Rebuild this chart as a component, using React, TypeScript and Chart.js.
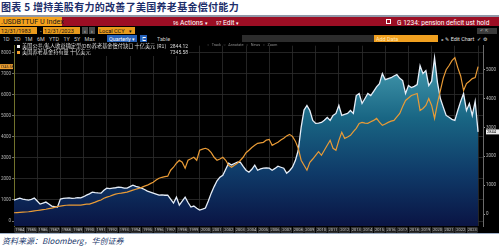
import React, { useEffect, useRef } from 'react';
import { Chart, registerables } from 'chart.js';

Chart.register(...registerables);

// ---- data (quarterly, 1983Q4 .. 2023Q4) ----
const YEAR_LABELS = ['1984','1985','1986','1987','1988','1989','1990','1991','1992','1993','1994','1995','1996','1997','1998','1999','2000','2001','2002','2003','2004','2005','2006','2007','2008','2009','2010','2011','2012','2013','2014','2015','2016','2017','2018','2019','2020','2021','2022','2023'];

// 美国公共/私人收益确定型(DB)养老基金偿付缺口 十亿美元 (R1)
const DEFICIT = [
  483, 520, 552, 520, 500, 483, 510, 552, 450, 345,
  380, 414, 350, 276, 260, 241, 517, 540, 552, 560,
  545, 552, 570, 560, 600, 655, 700, 759, 740, 730,
  724, 820, 897, 880, 897, 910, 931, 920, 900, 897,
  950, 1000, 960, 931, 900, 850, 793, 760, 724, 690,
  655, 660, 650, 655, 520, 379, 586, 310, 450, 586,
  400, 241, 276, 200, 138, 170, 207, 450, 724, 950,
  1150, 1276, 1345, 1550, 1759, 1700, 1750, 1800, 1793, 1650,
  1517, 1448, 1550, 1690, 1517, 1560, 1586, 1600, 1586, 1517,
  1580, 1655, 1620, 1586, 1414, 1500, 1621, 1850, 2207, 3000,
  3600, 3759, 3586, 3241, 3138, 3150, 3172, 3250, 3345, 3241,
  3414, 3483, 3759, 3414, 3450, 3483, 3586, 3483, 4103, 4172,
  3828, 4000, 4172, 4103, 4250, 4400, 4517, 4862, 4650, 4690,
  4720, 4780, 4828, 4700, 4621, 4172, 4448, 4379, 4420, 4483,
  5138, 4862, 4966, 4448, 4600, 5414, 4552, 4000, 3700, 3414,
  3350, 3280, 3241, 3586, 3900, 4172, 3586, 3828, 3414, 3900,
  2844.12,
];

// 美国养老基金持有量 十亿美元
const HOLDINGS = [
  393, 400, 410, 420, 430, 441, 460, 480, 500, 521,
  540, 560, 590, 610, 650, 690, 711, 730, 750, 758,
  760, 755, 758, 760, 780, 800, 806, 850, 900, 960,
  1000, 1080, 1137, 1180, 1232, 1280, 1310, 1327, 1350, 1374,
  1420, 1469, 1510, 1550, 1600, 1660, 1706, 1780, 1848, 1950,
  2038, 2080, 2110, 2133, 2417, 2559, 2750, 2891, 2796, 2512,
  2891, 2960, 3033, 2891, 3365, 3420, 3460, 3400, 3250, 3033,
  2891, 2950, 3033, 2891, 2650, 2559, 2654, 2749, 2880, 3033,
  3250, 3365, 3500, 3600, 3697, 3720, 3744, 3850, 3886, 3602,
  3680, 3744, 3850, 3934, 4050, 4123, 4028, 3800, 3460, 2891,
  2650, 2417, 2796, 2950, 3128, 3300, 3128, 3365, 3602, 3839,
  3460, 3365, 3839, 4218, 3934, 4000, 4076, 4250, 4408, 4645,
  4692, 4660, 4645, 4720, 4787, 4882, 4700, 4550, 4620, 4692,
  4750, 4787, 4950, 5118, 5450, 5735, 5850, 5972, 6020, 6066,
  5261, 5355, 5500, 5829, 5500, 4880, 5600, 6209, 6800, 7200,
  7400, 7630, 7773, 7299, 6900, 6209, 6540, 6650, 6777, 6825,
  7345.58,
];

const LEFT_TICKS = [0, 1000, 2000, 3000, 4000, 5000, 6000, 7000, 8000];
const RIGHT_TICKS = [0, 1000, 2000, 3000, 4000, 5000];
const DEFICIT_LAST = '2844.12';
const HOLDINGS_LAST = '7345.58';
const DEFICIT_BADGE = '2844';

const UI = '"Roboto", "Liberation Sans", sans-serif';
const CJK = '"Noto Sans CJK SC", sans-serif';

const overlayPlugin = {
  id: 'bbgOverlay',
  afterDraw(chart: any) {
    const { ctx, chartArea, scales } = chart;
    const xs = scales.x;
    ctx.save();
    ctx.font = `4px ${UI}`;
    ctx.textAlign = 'center';
    ctx.textBaseline = 'middle';
    YEAR_LABELS.forEach((lab, k) => {
      const x0 = xs.getPixelForValue(k * 4 + 0.2);
      const x1 = xs.getPixelForValue(k * 4 + 3.8);
      const top = chartArea.bottom + 1.5;
      const h = 5;
      ctx.fillStyle = '#1e1e1e';
      ctx.fillRect(x0, top, x1 - x0, h);
      ctx.strokeStyle = '#555';
      ctx.lineWidth = 0.5;
      ctx.strokeRect(x0 + 0.25, top + 0.25, x1 - x0 - 0.5, h - 0.5);
      ctx.fillStyle = '#cfcfcf';
      ctx.fillText(lab, (x0 + x1) / 2, top + h / 2 + 0.2);
    });
    const yl = scales.yL.getPixelForValue(HOLDINGS[HOLDINGS.length - 1]);
    ctx.fillStyle = '#f0a030';
    ctx.fillRect(0, yl - 2.5, 13, 5);
    ctx.fillStyle = '#1a1a1a';
    ctx.font = `3.6px ${UI}`;
    ctx.textAlign = 'left';
    ctx.fillText(HOLDINGS_LAST, 0.5, yl + 0.2);
    const yr = scales.yR.getPixelForValue(DEFICIT[DEFICIT.length - 1]);
    ctx.fillStyle = '#ececec';
    ctx.fillRect(chartArea.right + 3, yr - 2.5, 13, 5);
    ctx.fillStyle = '#111';
    ctx.font = `4px ${UI}`;
    ctx.fillText(DEFICIT_BADGE, chartArea.right + 4, yr + 0.2);
    ctx.restore();
  },
};

function BbgChart() {
  const ref = useRef<HTMLCanvasElement | null>(null);
  useEffect(() => {
    if (!ref.current) return;
    const gridStops = YEAR_LABELS.map((_, k) => k * 4).filter((v) => v % 8 === 0 && v > 0).concat([160]);
    const chart = new Chart(ref.current, {
      type: 'line',
      data: {
        datasets: [
          {
            label: 'holdings',
            data: HOLDINGS.map((v, i) => ({ x: i, y: v })),
            yAxisID: 'yL',
            borderColor: '#e99b36',
            borderWidth: 1.2,
            pointRadius: 0,
            fill: false,
            tension: 0,
          },
          {
            label: 'deficit',
            data: DEFICIT.map((v, i) => ({ x: i, y: v })),
            yAxisID: 'yR',
            borderColor: '#e6eef8',
            borderWidth: 1.3,
            pointRadius: 0,
            tension: 0,
            fill: 'start',
            backgroundColor: (c: any) => {
              const { chart: ch } = c;
              const area = ch.chartArea;
              if (!area) return '#0e2a5a';
              const g = ch.ctx.createLinearGradient(0, area.top, 0, area.bottom);
              g.addColorStop(0, '#55a8b8');
              g.addColorStop(0.15, '#3c90a6');
              g.addColorStop(0.4, '#196684');
              g.addColorStop(0.7, '#0f3b69');
              g.addColorStop(1, '#0a1444');
              return g;
            },
          },
        ],
      },
      options: {
        animation: false,
        responsive: false,
        devicePixelRatio: 1,
        layout: { padding: 0 },
        plugins: { legend: { display: false }, tooltip: { enabled: false } },
        scales: {
          x: {
            type: 'linear',
            min: 0,
            max: 161.7,
            afterBuildTicks: (s: any) => {
              s.ticks = gridStops.map((v) => ({ value: v }));
            },
            afterFit: (s: any) => {
              s.height = 7;
            },
            ticks: { display: false },
            grid: { color: '#2d2d2d', lineWidth: 0.8, drawTicks: false },
            border: { display: false },
          },
          yL: {
            position: 'left',
            min: -237,
            max: 8341,
            afterBuildTicks: (s: any) => {
              s.ticks = LEFT_TICKS.map((v) => ({ value: v }));
            },
            afterFit: (s: any) => {
              s.width = 14;
            },
            ticks: {
              color: '#b4b4b4',
              font: { size: 4.5, family: UI },
              padding: 1,
              callback: (v: any) => String(v),
            },
            grid: { color: '#2d2d2d', lineWidth: 0.8, tickLength: 2, tickColor: '#888' },
            border: { color: '#72722c', width: 1 },
          },
          yR: {
            position: 'right',
            min: -414,
            max: 5828,
            afterBuildTicks: (s: any) => {
              s.ticks = RIGHT_TICKS.map((v) => ({ value: v }));
            },
            afterFit: (s: any) => {
              s.width = 16;
            },
            ticks: {
              color: '#bcbcbc',
              font: { size: 4.5, family: UI },
              padding: 1,
              callback: (v: any) => String(v),
            },
            grid: { drawOnChartArea: false, tickLength: 2, tickColor: '#999' },
            border: { color: '#6c6c6c', width: 1 },
          },
        },
      },
      plugins: [overlayPlugin],
    } as any);
    return () => chart.destroy();
  }, []);
  return (
    <canvas
      ref={ref}
      width={499}
      height={191}
      style={{ position: 'absolute', left: 0, top: 42, width: 499, height: 191, background: '#000' }}
    />
  );
}

const abs = (s: React.CSSProperties): React.CSSProperties => ({ position: 'absolute', whiteSpace: 'nowrap', ...s });

// tiny text: rendered large then scaled down (avoids any minimum font size)
function T(props: { x: number; y: number; size: number; color: string; family?: string; children: React.ReactNode; style?: React.CSSProperties }) {
  const k = 4;
  return (
    <div
      style={abs({
        left: props.x,
        top: props.y,
        fontSize: props.size * k,
        lineHeight: 1,
        color: props.color,
        fontFamily: props.family || UI,
        transform: `scale(${1 / k})`,
        transformOrigin: 'left top',
        ...(props.style || {}),
      })}
    >
      {props.children}
    </div>
  );
}

export default function App() {
  useEffect(() => {
    document.body.style.margin = '0';
  }, []);
  return (
    <div style={{ position: 'fixed', left: 0, top: 0, width: 499, height: 248, background: '#fff', overflow: 'hidden', fontFamily: UI }}>
      {/* title */}
      <div style={abs({ left: 1, top: 1, fontSize: 10, lineHeight: '12px', fontWeight: 700, color: '#1d2e6a', fontFamily: CJK, letterSpacing: 0.3 })}>
        图表 5 增持美股有力的改善了美国养老基金偿付能力
      </div>
      <div style={abs({ left: 0, top: 15, width: 499, height: 2, background: '#9098a8' })} />
      {/* black panel */}
      <div style={abs({ left: 0, top: 17, width: 499, height: 216, background: '#000' })} />
      <BbgChart />
      {/* red bar */}
      <div style={abs({ left: 0, top: 17, width: 499, height: 9, background: '#9c0e24' })} />
      <div style={abs({ left: 0, top: 17, width: 62, height: 9, background: '#f5a11c' })} />
      <T x={1} y={18.3} size={7.2} color="#1a1a1a">.USDBTTUF U Index</T>
      <T x={173} y={18.5} size={6.8} color="#fff">
        <span style={{ fontSize: '70%' }}>96</span> Actions <span style={{ fontSize: '70%' }}>▾</span>
      </T>
      <T x={216} y={18.5} size={6.8} color="#fff">
        <span style={{ fontSize: '70%' }}>97</span> Edit <span style={{ fontSize: '70%' }}>▾</span>
      </T>
      <div style={abs({ left: 386, top: 19, width: 5, height: 5, border: '1px solid #fff', boxSizing: 'border-box' })} />
      <T x={397} y={18.5} size={6.6} color="#fff">G 1234: pension deficit ust hold</T>
      {/* row 2 */}
      <div style={abs({ left: 0, top: 27, width: 37, height: 7, background: '#e89a1c' })} />
      <T x={1} y={28} size={5.6} color="#111">12/31/1983</T>
      <T x={39.5} y={28} size={5.6} color="#ddd">-</T>
      <div style={abs({ left: 43, top: 27, width: 37, height: 7, background: '#e89a1c' })} />
      <T x={44} y={28} size={5.6} color="#111">12/31/2023</T>
      <div style={abs({ left: 82, top: 27, width: 6, height: 7, background: '#4a4a4a' })} />
      <T x={83.6} y={28} size={5.6} color="#eee">‹</T>
      <div style={abs({ left: 89, top: 27, width: 6, height: 7, background: '#4a4a4a' })} />
      <T x={90.6} y={28} size={5.6} color="#eee">›</T>
      <div style={abs({ left: 98, top: 27, width: 37, height: 7, background: '#e89a1c' })} />
      <T x={99} y={28} size={5.6} color="#111">Local CCY</T>
      <T x={129} y={28.5} size={4.5} color="#111">▾</T>
      <div style={abs({ left: 477, top: 28, width: 20, height: 6, background: '#3a3a3a' })} />
      <T x={480} y={29} size={4} color="#bbb">↶ &nbsp;⇱</T>
      {/* row 3 */}
      <T x={3} y={36} size={5.4} color="#c8c8c8" style={{ wordSpacing: 12 }}>1D 3D 1M 6M YTD 1Y 5Y Max</T>
      <div style={abs({ left: 107, top: 35, width: 30, height: 7, background: '#2560b8' })} />
      <T x={108.5} y={36} size={5.4} color="#fff">Quarterly ▾</T>
      <div style={abs({ left: 140, top: 35, width: 7, height: 7, background: '#2560b8' })} />
      <T x={141.5} y={36.5} size={4.5} color="#fff">⊏</T>
      <T x={157} y={36} size={5.4} color="#c8c8c8">Table</T>
      <div style={abs({ left: 242, top: 35, width: 132, height: 7, background: '#2c2c2c' })} />
      <div style={abs({ left: 374, top: 35, width: 64, height: 7, background: '#f0a020' })} />
      <T x={375.5} y={36} size={5.4} color="#fde7b8">Add Data</T>
      <T x={441} y={36} size={5.4} color="#e0e0e0">« ✎ Edit Chart &nbsp;✓ ⚙</T>
      {/* legend */}
      <div style={abs({ left: 15, top: 43, width: 174, height: 13, background: '#000' })} />
      <div style={abs({ left: 17, top: 44.5, width: 3, height: 3, background: '#f2f2f2' })} />
      <T x={22} y={43.3} size={5.2} color="#dcdcdc" family={CJK}>美国公共/私人收益确定型(DB)养老基金偿付缺口 十亿美元 (R1)</T>
      <T x={170} y={43.8} size={5} color="#dcdcdc">{DEFICIT_LAST}</T>
      <div style={abs({ left: 17, top: 50.5, width: 3, height: 3, background: '#f0a030' })} />
      <T x={22} y={49.3} size={5.2} color="#dcdcdc" family={CJK}>美国养老基金持有量 十亿美元</T>
      <T x={170} y={49.8} size={5} color="#dcdcdc">{HOLDINGS_LAST}</T>
      <T x={207} y={42.8} size={3.8} color="#8a8a8a" style={{ wordSpacing: 6 }}>○ Track ○ Annotate ○ News ○ Zoom</T>
      {/* bottom */}
      <div style={abs({ left: 0, top: 233, width: 499, height: 1, background: '#9fb0c8' })} />
      <div style={abs({ left: 2, top: 236, color: '#22386c', fontSize: 8, lineHeight: '10px', fontStyle: 'italic', fontFamily: '"Noto Sans CJK SC", serif' })}>
        资料来源：Bloomberg，华创证券
      </div>
    </div>
  );
}
